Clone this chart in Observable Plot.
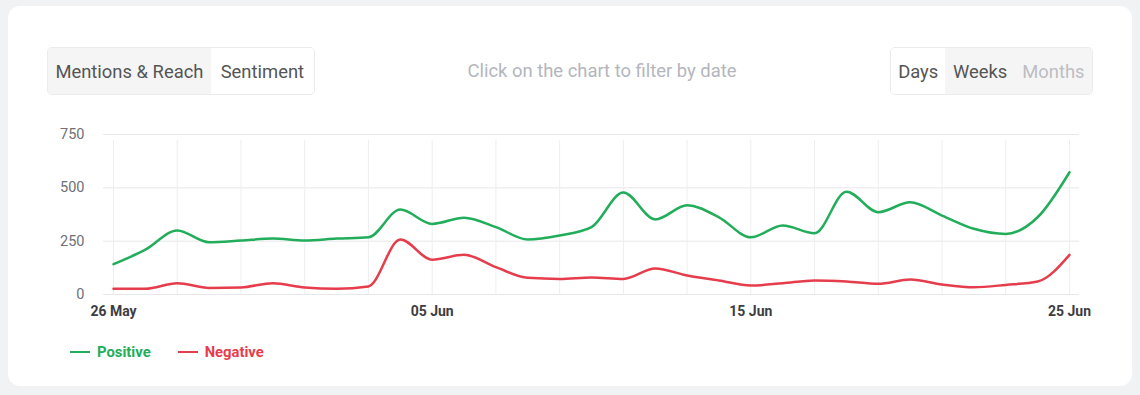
<!DOCTYPE html>
<html><head><meta charset="utf-8">
<script src="https://cdn.jsdelivr.net/npm/d3@7"></script>
<script src="https://cdn.jsdelivr.net/npm/@observablehq/plot@0.6"></script>
<style>
html,body{margin:0;padding:0;background:#f1f2f4;font-family:Roboto,"Noto Sans",sans-serif;}
#card{position:absolute;left:8px;top:6px;width:1124px;height:380px;background:#fff;border-radius:12px;}
.grp{position:absolute;top:47px;height:48px;border:1px solid #ebebed;border-radius:5px;display:flex;overflow:hidden;box-sizing:border-box;}
.grp div{display:flex;align-items:center;justify-content:center;font-size:18.4px;color:#555;}
.on{background:#fff;} .off{background:#f5f5f6;}
#hint{position:absolute;top:60px;left:402px;width:400px;text-align:center;font-size:18.4px;color:#b3b6bd;}
#chart{position:absolute;left:0;top:120px;}
#legend{position:absolute;top:343px;left:70px;display:flex;font-size:14.8px;font-weight:700;}
#legend span.sw{display:inline-block;width:20px;height:2.5px;margin-right:7px;vertical-align:middle;position:relative;top:-1px;}
#legend .it{margin-right:27px;}
</style></head>
<body>
<div id="card"></div>
<div class="grp" style="left:47px;width:268px;">
  <div class="off" style="width:164px;">Mentions &amp; Reach</div>
  <div class="on" style="width:104px;">Sentiment</div>
</div>
<div id="hint">Click on the chart to filter by date</div>
<div class="grp" style="left:890px;width:203px;">
  <div class="on" style="width:55px;">Days</div>
  <div class="off" style="width:70px;">Weeks</div>
  <div class="off" style="width:78px;color:#bdbdc2;">Months</div>
</div>
<div id="chart"></div>
<div id="legend"></div>
<script>
const startDate = "2024-05-26";
const seriesNames = ["Positive", "Negative"];
const seriesColors = ["#22ad5a", "#e63d4c"];
const positive = [142,210,300,245,253,262,253,262,268,398,331,360,316,258,277,316,478,352,418,362,268,323,287,482,386,432,370,308,284,362,573];
const negative = [27,27,53,31,33,53,33,27,38,258,163,186,128,78,73,80,73,122,89,66,42,53,66,61,50,70,47,34,45,61,186];
const yTicks = [0,250,500,750];
const xTickLabels = ["2024-05-26","2024-06-05","2024-06-15","2024-06-25"];

const day0 = new Date(startDate + "T00:00:00Z");
const dates = positive.map((_, i) => new Date(day0.getTime() + i * 864e5));
const rows = [];
positive.forEach((v, i) => rows.push({date: dates[i], value: v, series: "Positive"}));
negative.forEach((v, i) => rows.push({date: dates[i], value: v, series: "Negative"}));
const gridX = dates.filter((d, i) => i % 2 === 0);

const chart = Plot.plot({
  width: 1140, height: 210,
  marginLeft: 113, marginRight: 71, marginTop: 14, marginBottom: 36,
  style: {fontFamily: "Roboto, sans-serif", fontSize: "13px", background: "transparent"},
  x: {type: "utc", domain: [dates[0], dates[dates.length-1]]},
  y: {domain: [0, 750]},
  color: {domain: seriesNames, range: seriesColors},
  marks: [
    Plot.ruleY(yTicks, {stroke: "#e7e7ea", strokeWidth: 1, insetLeft: -10, insetRight: -10}),
    Plot.ruleX(gridX, {y1: 0, y2: 750, stroke: "#eeeef0", strokeWidth: 1, insetBottom: -6}),
    Plot.axisY({ticks: yTicks, tickSize: 0, tickPadding: 29, fill: "#707075", fontSize: 14.5, label: null}),
    Plot.axisX({ticks: xTickLabels.map(s => new Date(s + "T00:00:00Z")), tickSize: 0, tickPadding: 12,
      tickFormat: d3.utcFormat("%d %b"), fill: "#3d3d42", fontWeight: 700, fontSize: 14, label: null}),
    Plot.line(rows, {x: "date", y: "value", stroke: "series", z: "series", curve: "monotone-x", strokeWidth: 2.5})
  ]
});
document.getElementById("chart").appendChild(chart);

const lg = document.getElementById("legend");
seriesNames.forEach((n, i) => {
  const it = document.createElement("div");
  it.className = "it";
  it.style.color = seriesColors[i];
  it.innerHTML = `<span class="sw" style="background:${seriesColors[i]}"></span>${n}`;
  lg.appendChild(it);
});
</script>
</body></html>
